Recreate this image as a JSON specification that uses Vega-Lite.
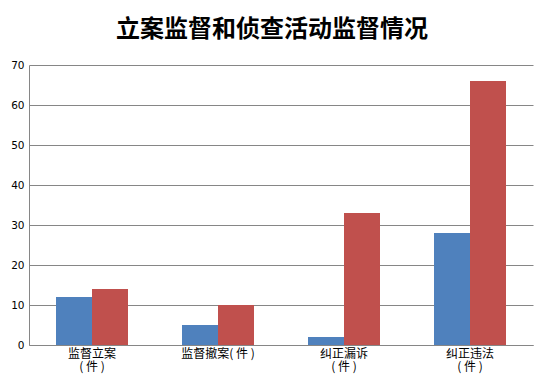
{
  "$schema": "https://vega.github.io/schema/vega-lite/v6.json",
  "autosize": "none",
  "width": 504,
  "height": 280,
  "padding": {"left": 29, "top": 65, "right": 12, "bottom": 39},
  "background": "white",
  "title": {
    "text": "立案监督和侦查活动监督情况",
    "font": "Noto Sans CJK SC",
    "fontSize": 24,
    "fontWeight": "bold",
    "color": "#000000",
    "anchor": "middle",
    "dx": -9,
    "offset": 18
  },
  "data": {
    "values": [
      {"cat": "监督立案|( 件 )", "series": "A", "value": 12},
      {"cat": "监督立案|( 件 )", "series": "B", "value": 14},
      {"cat": "监督撤案( 件 )", "series": "A", "value": 5},
      {"cat": "监督撤案( 件 )", "series": "B", "value": 10},
      {"cat": "纠正漏诉|( 件 )", "series": "A", "value": 2},
      {"cat": "纠正漏诉|( 件 )", "series": "B", "value": 33},
      {"cat": "纠正违法|( 件 )", "series": "A", "value": 28},
      {"cat": "纠正违法|( 件 )", "series": "B", "value": 66}
    ]
  },
  "mark": {"type": "bar"},
  "encoding": {
    "x": {
      "field": "cat",
      "type": "nominal",
      "sort": null,
      "scale": {"paddingInner": 0.4286, "paddingOuter": 0.2143},
      "axis": {
        "title": null,
        "labelAngle": 0,
        "labelExpr": "split(datum.value, '|')",
        "labelFont": "Noto Sans CJK SC",
        "labelFontSize": 12,
        "labelLineHeight": 13.5,
        "labelColor": "#000000",
        "labelPadding": 3,
        "ticks": false,
        "domainColor": "#868686",
        "labelBaseline": "top"
      }
    },
    "xOffset": {"field": "series", "type": "nominal", "scale": {"paddingInner": 0, "paddingOuter": 0}},
    "y": {
      "field": "value",
      "type": "quantitative",
      "scale": {"domain": [0, 70], "nice": false},
      "axis": {
        "title": null,
        "values": [0, 10, 20, 30, 40, 50, 60, 70],
        "labelFont": "DejaVu Sans",
        "labelFontSize": 10.5,
        "labelColor": "#000000",
        "labelPadding": 5,
        "ticks": false,
        "domainColor": "#868686",
        "gridColor": "#868686",
        "grid": true
      }
    },
    "color": {
      "field": "series",
      "type": "nominal",
      "scale": {"domain": ["A", "B"], "range": ["#4F81BD", "#C0504D"]},
      "legend": null
    }
  },
  "config": {"view": {"stroke": null}}
}
